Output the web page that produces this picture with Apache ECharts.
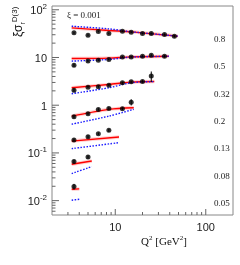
<!DOCTYPE html>
<html><head><meta charset="utf-8">
<script src="https://cdn.jsdelivr.net/npm/echarts@6/dist/echarts.min.js"></script>
<style>html,body{margin:0;padding:0;background:#fff}#c{width:240px;height:265px}</style>
</head><body><div id="c"></div>
<script>
// ---- data ----
const q2Bins = [3.5, 5, 6.5, 8.5, 12, 15, 20, 25, 35, 45];
const betaLabels = ['0.8', '0.5', '0.32', '0.2', '0.13', '0.08', '0.05'];
const xLabel = '0.001';

const val08  = [32.9, 29.3, 35.0, 31.8, 35.5, 33.8, 31.8, 31.8, 30.3, 27.9];
const val05  = [6.9, 8.4, 8.8, 9.1, 10.3, 10.3, 10.6, 11.2, 10.6];
const val032 = [2.07, 2.39, 2.44, 2.63, 2.96, 3.10, 3.15, 4.07];
const val02  = [0.574, 0.664, 0.817, 0.857, 0.845, 1.16];
const val013 = [0.186, 0.219, 0.253, 0.297];
const val008 = [0.0658, 0.082];
const val005 = [0.0197];

// relative errors
const err08  = [0.05, 0.05, 0.04, 0.04, 0.04, 0.04, 0.04, 0.05, 0.05, 0.06];
const err05  = [0.08, 0.05, 0.04, 0.04, 0.04, 0.04, 0.05, 0.05, 0.06];
const err032 = [0.08, 0.05, 0.05, 0.05, 0.05, 0.05, 0.06, 0.25];
const err02  = [0.08, 0.06, 0.06, 0.06, 0.07, 0.15];
const err013 = [0.08, 0.07, 0.06, 0.07];
const err008 = [0.09, 0.08];
const err005 = [0.14];

// fit curves (red solid) and alternative (blue dotted)
const fitQ08  = [3.3, 8.5, 15, 49];
const red08   = [41.8, 36.7, 34.5, 27.9];
const blue08  = [45.2, 39.8, 34.6, 28.0];
const fitQ05  = [3.3, 8.5, 15, 39];
const red05   = [9.5, 9.7, 10.3, 10.6];
const blue05  = [8.4, 9.1, 10.2, 10.6];
const fitQ032 = [3.3, 8.5, 15, 27];
const red032  = [2.32, 2.72, 3.04, 3.13];
const blue032 = [1.74, 2.32, 2.96, 3.13];
const fitQ02  = [3.3, 8.5, 16];
const red02   = [0.59, 0.82, 0.886];
const blue02  = [0.40, 0.59, 0.82];
const fitQ013 = [3.3, 11];
const red013  = [0.177, 0.215];
const blue013 = [0.123, 0.164];
const fitQ008 = [3.3, 5.5];
const red008  = [0.0578, 0.0678];
const blue008 = [0.0369, 0.0516];
const fitQ005 = [3.3, 4.0];
const red005  = [0.0173, 0.0176];
const blue005 = [0.0102, 0.0107];

const xMajorTicks = [10, 100];
const xMinorTicks = [3, 4, 5, 6, 7, 8, 9, 20, 30, 40, 50, 60, 70, 80, 90];
const yMajorTicks = [0.01, 0.1, 1, 10, 100];
const yMinorTicks = [0.006, 0.007, 0.008, 0.009, 0.02, 0.03, 0.04, 0.05, 0.06, 0.07, 0.08, 0.09,
  0.2, 0.3, 0.4, 0.5, 0.6, 0.7, 0.8, 0.9, 2, 3, 4, 5, 6, 7, 8, 9, 20, 30, 40, 50, 60, 70, 80, 90];

// ---- chart ----
const X_MIN = 2, X_MAX = 200, Y_MIN = 0.005, Y_MAX = 120;
const SANS = 'Liberation Sans, Arial, sans-serif';
const SERIF = 'Liberation Serif, Times New Roman, serif';

const rows = [
  [val08, err08, fitQ08, red08, blue08],
  [val05, err05, fitQ05, red05, blue05],
  [val032, err032, fitQ032, red032, blue032],
  [val02, err02, fitQ02, red02, blue02],
  [val013, err013, fitQ013, red013, blue013],
  [val008, err008, fitQ008, red008, blue008],
  [val005, err005, fitQ005, red005, blue005]
];

const series = [];
const pts = [], errs = [];
rows.forEach(([v, e, fq, r, b]) => {
  series.push({ type: 'line', data: fq.map((q, i) => [q, r[i]]), smooth: 0.3, symbol: 'none',
    lineStyle: { color: 'rgba(255,80,80,0.25)', width: 3.5 }, z: 1, silent: true });
  series.push({ type: 'line', data: fq.map((q, i) => [q, r[i]]), smooth: 0.3, symbol: 'none',
    lineStyle: { color: '#ff0000', width: 1.4 }, z: 2 });
  series.push({ type: 'line', data: fq.map((q, i) => [q, b[i]]), smooth: 0.3, symbol: 'none',
    lineStyle: { color: '#1a1aff', width: 1.4, type: [1.5, 1.5] }, z: 3 });
  v.forEach((y, i) => {
    pts.push([q2Bins[i], y]);
    errs.push([q2Bins[i], y * (1 - e[i]), y * (1 + e[i])]);
  });
});
series.push({ type: 'custom', data: errs, z: 4, clip: false,
  renderItem: (p, api) => {
    const a = api.coord([api.value(0), api.value(1)]);
    const c = api.coord([api.value(0), api.value(2)]);
    return { type: 'line', shape: { x1: a[0], y1: a[1], x2: c[0], y2: c[1] }, style: { stroke: '#000', lineWidth: 1 } };
  } });
series.push({ type: 'scatter', data: pts, symbol: 'circle', symbolSize: 5, itemStyle: { color: '#000' }, z: 5 });

// ticks drawn through the axis scales
const xt = xMajorTicks.map(t => [t, Y_MIN, 6]).concat(xMinorTicks.map(t => [t, Y_MIN, 3]));
const yt = yMajorTicks.map(t => [X_MIN, t, 7]).concat(yMinorTicks.map(t => [X_MIN, t, 3.5]));
series.push({ type: 'custom', data: xt, z: 6, clip: false, silent: true,
  renderItem: (p, api) => {
    const a = api.coord([api.value(0), api.value(1)]);
    return { type: 'line', shape: { x1: a[0], y1: a[1], x2: a[0], y2: a[1] - api.value(2) }, style: { stroke: '#666', lineWidth: 1 } };
  } });
series.push({ type: 'custom', data: yt, z: 6, clip: false, silent: true,
  renderItem: (p, api) => {
    const a = api.coord([api.value(0), api.value(1)]);
    return { type: 'line', shape: { x1: a[0], y1: a[1], x2: a[0] + api.value(2), y2: a[1] }, style: { stroke: '#666', lineWidth: 1 } };
  } });

const isPow = v => Math.abs(Math.log10(v) - Math.round(Math.log10(v))) < 1e-6;

const graphic = [
  { type: 'text', left: 67, top: 11, style: { text: 'ξ = ' + xLabel, font: '9px ' + SERIF, fill: '#222' } },
  { type: 'text', x: 164, y: 241, style: {
      text: '{a|Q}{s|2}{a| [GeV}{s|2}{a|]}', align: 'center', verticalAlign: 'middle',
      rich: { a: { fontFamily: SERIF, fontSize: 11, fill: '#111', lineHeight: 13, verticalAlign: 'bottom' },
              s: { fontFamily: SERIF, fontSize: 7, fill: '#111', lineHeight: 13, verticalAlign: 'top' } } } },
  { type: 'text', x: 27, y: 37, rotation: Math.PI / 2, style: {
      text: '{a|ξσ}{r|r}{s|D(3)}', align: 'left', verticalAlign: 'bottom',
      rich: { a: { fontFamily: SANS, fontSize: 12, fill: '#111', lineHeight: 16, verticalAlign: 'middle' },
              r: { fontFamily: SANS, fontSize: 7, fill: '#111', lineHeight: 16, verticalAlign: 'bottom' },
              s: { fontFamily: SANS, fontSize: 8, fill: '#111', lineHeight: 16, verticalAlign: 'top' } } } }
];
betaLabels.forEach((t, i) => {
  graphic.push({ type: 'text', left: 214, top: 35 + i * 27.4, style: { text: t, font: '9px ' + SERIF, fill: '#222' } });
});

const chart = echarts.init(document.getElementById('c'), null, { renderer: 'canvas' });
chart.setOption({
  animation: false,
  grid: { left: 52, right: 7, top: 6, bottom: 50, show: true, borderColor: '#888', borderWidth: 1, backgroundColor: 'transparent' },
  xAxis: { type: 'log', logBase: 10, min: X_MIN, max: X_MAX,
    axisLine: { show: false }, axisTick: { show: false }, splitLine: { show: false },
    axisLabel: { showMinLabel: false, showMaxLabel: false, margin: 7, color: '#222', fontFamily: SANS, fontSize: 11,
      formatter: v => isPow(v) ? String(Math.round(v)) : '' } },
  yAxis: { type: 'log', logBase: 10, min: Y_MIN, max: Y_MAX,
    axisLine: { show: false }, axisTick: { show: false }, splitLine: { show: false },
    axisLabel: { showMinLabel: false, showMaxLabel: false, margin: 5, color: '#222',
      formatter: v => {
        if (!isPow(v)) return '';
        const e = Math.round(Math.log10(v));
        if (e === 0) return '{b|1}';
        if (e === 1) return '{b|10}';
        return '{b|10}{s|' + (e < 0 ? '-' + (-e) : e) + '}';
      },
      rich: { b: { fontFamily: SANS, fontSize: 11, color: '#222', lineHeight: 14, verticalAlign: 'bottom' },
        s: { fontFamily: SANS, fontSize: 8, color: '#222', lineHeight: 14, verticalAlign: 'top' } } } },
  series: series,
  graphic: graphic
});
</script></body></html>
